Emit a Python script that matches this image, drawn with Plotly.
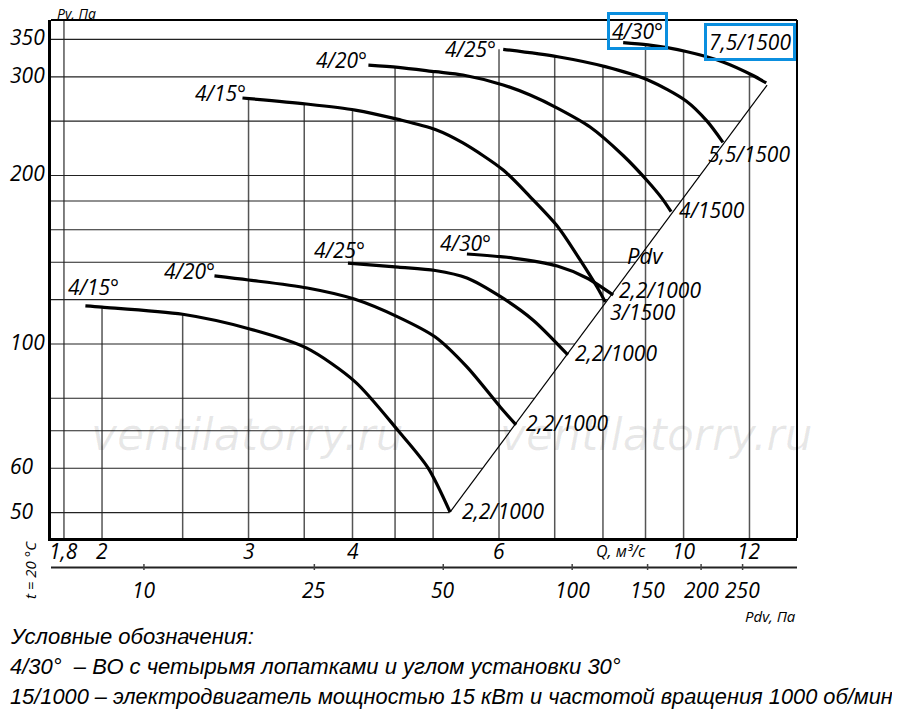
import numpy as np
import plotly.graph_objects as go

# ---- values: Q in m3/s, Pv in Pa ----

# 1000 rpm group (2,2 kW)
q_1000_15 = [1.91, 2.0, 2.5, 3.01, 3.52, 4.03, 4.54, 4.93, 5.24]
pv_1000_15 = [117.0, 116.4, 113.0, 106.4, 98.4, 85.6, 70.0, 60.1, 50.1]
q_1000_20 = [2.73, 3.0, 3.53, 4.02, 4.54, 5.03, 5.49, 6.02, 6.29]
pv_1000_20 = [132.3, 130.1, 125.9, 120.3, 111.7, 102.9, 91.0, 77.2, 71.7]
q_1000_25 = [3.95, 4.54, 5.03, 5.49, 6.02, 6.59, 7.26]
pv_1000_25 = [139.5, 137.2, 135.3, 131.2, 121.6, 110.4, 95.6]
q_1000_30 = [5.49, 6.24, 7.05, 7.65, 8.23]
pv_1000_30 = [144.8, 142.4, 137.8, 131.2, 122.3]

# 1500 rpm group
q_1500_15 = [2.95, 3.52, 4.03, 4.54, 5.03, 5.43, 6.07, 6.54, 7.06, 7.51, 7.87, 8.05]
pv_1500_15 = [275.0, 268.3, 261.7, 251.8, 241.6, 228.6, 204.5, 183.2, 162.0, 141.3, 126.4, 118.9]
q_1500_20 = [4.18, 4.54, 5.03, 5.43, 6.07, 6.54, 7.06, 7.72, 8.46, 9.06, 9.42, 9.66]
pv_1500_20 = [314.9, 312.0, 306.4, 302.2, 290.1, 278.4, 263.6, 244.1, 217.1, 195.1, 182.0, 172.3]
q_1500_25 = [6.07, 7.06, 8.05, 9.06, 10.07, 10.67, 11.15]
pv_1500_25 = [335.9, 325.8, 312.8, 296.1, 271.6, 250.0, 229.2]
q_1500_30 = [8.46, 9.06, 10.07, 11.15, 12.12, 12.57]
pv_1500_30 = [345.2, 342.0, 332.9, 318.9, 301.6, 292.5]

blade_labels = ["4/15°", "4/20°", "4/25°", "4/30°", "4/15°", "4/20°", "4/25°", "4/30°"]
motor_labels = ["2,2/1000", "2,2/1000", "2,2/1000", "2,2/1000",
                "3/1500", "4/1500", "5,5/1500", "7,5/1500"]

# Pdv line (end points of the motor-limit diagonal)
pdv_line_q = [5.24, 12.6]
pdv_line_pv = [50.1, 290.0]

# axes
q_ticks = [1.8, 2, 3, 4, 6, 10, 12]
q_tick_text = ["1,8", "2", "3", "4", "6", "10", "12"]
pv_ticks = [50, 60, 100, 200, 300, 350]
pdv_ticks = [10, 25, 50, 100, 150, 200, 250]
q_grid = [1.8, 2, 2.5, 3, 3.5, 4, 4.5, 5, 6, 7, 8, 9, 10, 12]
pv_grid = [50, 60, 70, 80, 100, 120, 140, 160, 180, 200, 250, 300, 350]

legend_lines = [
    "Условные обозначения:",
    "4/30°  – ВО с четырьмя лопатками и углом установки 30°",
    "15/1000 – электродвигатель мощностью 15 кВт и частотой вращения 1000 об/мин",
]

# ---- layout geometry in screen px (the page body adds an 8 px margin) ----
W, H = 900, 711
PAGE = 8
PLOT_L, PLOT_R, PLOT_T, AX_Y, PDV_Y = 51, 797, 20, 538, 568
L, T = PLOT_L - PAGE, PLOT_T - PAGE
R, B = W - (PLOT_R - PAGE), H - (PDV_Y - PAGE)
X_RANGE = [0.2397, 1.1363]
Y_RANGE = [1.6536, 2.5786]
PDV_RANGE = [0.783, 2.525]      # log10 Pdv across the same width

LABEL_FONT = "Open Sans, Noto Sans, sans-serif"
TEXT_FONT = "Liberation Sans, Arial, sans-serif"


def paper_x(px):
    return (px - PLOT_L) / (PLOT_R - PLOT_L)


def paper_y(py):
    return (PDV_Y - py) / (PDV_Y - PLOT_T)


def pdv_to_paper(v):
    return (np.log10(v) - PDV_RANGE[0]) / (PDV_RANGE[1] - PDV_RANGE[0])


def pv_at(q, qs, ps):
    return 10 ** np.interp(np.log10(q), np.log10(qs), np.log10(ps))


curves = [
    (q_1000_15, pv_1000_15), (q_1000_20, pv_1000_20),
    (q_1000_25, pv_1000_25), (q_1000_30, pv_1000_30),
    (q_1500_15, pv_1500_15), (q_1500_20, pv_1500_20),
    (q_1500_25, pv_1500_25), (q_1500_30, pv_1500_30),
]

fig = go.Figure()

# grid: verticals stop at the top curve, horizontals stop at the Pdv line
y_bottom, y_top = 10 ** Y_RANGE[0], 10 ** Y_RANGE[1]
vx, vy = [], []
for q in q_grid:
    tops = [pv_at(q, cq, cp) for cq, cp in curves if cq[0] <= q * 1.02 and q <= cq[-1]]
    vx += [q, q, None]
    vy += [y_bottom, max(tops) if tops else y_top, None]

k_pdv = pdv_line_pv[0] / pdv_line_q[0] ** 2
hx, hy = [], []
for p in pv_grid:
    q_diag = np.sqrt(p / k_pdv)
    q_cap = 10 ** np.interp(np.log10(p), np.log10(pv_1500_30[::-1]), np.log10(q_1500_30[::-1]))
    hx += [10 ** X_RANGE[0], min(q_diag, q_cap), None]
    hy += [p, p, None]

fig.add_trace(go.Scatter(x=vx, y=vy, mode="lines", line=dict(color="#555", width=1.5),
                         hoverinfo="skip", showlegend=False))
fig.add_trace(go.Scatter(x=hx, y=hy, mode="lines", line=dict(color="#222", width=1.1),
                         hoverinfo="skip", showlegend=False))

fig.add_trace(go.Scatter(x=pdv_line_q, y=pdv_line_pv, mode="lines",
                         line=dict(color="black", width=1.2), showlegend=False))

for cq, cp in curves:
    fig.add_trace(go.Scatter(x=cq, y=cp, mode="lines",
                             line=dict(color="black", width=3.2, shape="spline", smoothing=0.8),
                             showlegend=False))

lab_font = dict(family=LABEL_FONT, size=21, color="black", style="italic")
blue = "#0b8fdf"

# label offsets in px (dx right, dy down) from curve start / end
start_off = [(8, -19), (-25, -5), (-8, -13), (-1, -11), (-22, -5), (-27, -5), (-33, 0), (14, -12)]
end_off = [(53, -1), (51, -2), (48, -2), (47, -5), (38, 10), (41, -2), (26, 12), (-16, -41)]

annotations = []
for i, (cq, cp) in enumerate(curves):
    boxed = i == 7
    for text, q, p, (dx, dy) in [
        (blade_labels[i], cq[0], cp[0], start_off[i]),
        (motor_labels[i], cq[-1], cp[-1], end_off[i]),
    ]:
        ann = dict(x=np.log10(q), y=np.log10(p), xref="x", yref="y", text=text,
                   xshift=dx, yshift=-dy, font=lab_font)
        if boxed:
            ann.update(bordercolor=blue, borderwidth=3, borderpad=2)
        annotations.append(ann)

annotations.append(dict(x=np.log10(9.0), y=np.log10(144), xref="x", yref="y", text="Pdv",
                        font=dict(lab_font, size=22)))

# y tick labels, left aligned like the original
for v in pv_ticks:
    annotations.append(dict(x=paper_x(8), y=np.log10(v), yref="y", text=str(v),
                            xanchor="left", yshift=2, font=lab_font))

# Q tick labels just under the frame
for v, t in zip(q_ticks, q_tick_text):
    annotations.append(dict(x=np.log10(v), xref="x", y=paper_y(551), text=t, font=lab_font))

# frame top/right, then the Pdv scale: a line with small ticks under the Q axis
shapes = [
    dict(type="line", xref="paper", yref="paper", x0=0, x1=1, y0=1, y1=1,
         line=dict(color="black", width=2)),
    dict(type="line", xref="paper", yref="paper", x0=1, x1=1, y0=paper_y(AX_Y), y1=1,
         line=dict(color="black", width=2)),
    dict(type="line", xref="paper", yref="paper", x0=0, x1=1,
         y0=paper_y(PDV_Y - 0.5), y1=paper_y(PDV_Y - 0.5),
         line=dict(color="#222", width=2)),
]
for v in pdv_ticks:
    xp = pdv_to_paper(v)
    shapes.append(dict(type="line", xref="paper", yref="paper", x0=xp, x1=xp,
                       y0=paper_y(PDV_Y + 2), y1=paper_y(PDV_Y - 4),
                       line=dict(color="#444", width=1.5)))
    annotations.append(dict(x=xp, y=paper_y(590), text=str(v), font=lab_font))

small = dict(family=LABEL_FONT, size=15, color="black", style="italic")
annotations += [
    dict(x=paper_x(55), y=paper_y(13.5), text="Pv, Па", xanchor="left", font=dict(small, size=14)),
    dict(x=paper_x(621), y=paper_y(551), text="Q, м³/с", font=dict(small, size=16)),
    dict(x=paper_x(770), y=paper_y(616), text="Pdv, Па", font=small),
    dict(x=paper_x(30), y=paper_y(570), text="t = 20 °C", textangle=-90, font=small),
]

wm = dict(family="DejaVu Sans, sans-serif", size=44, color="rgba(0,0,0,0.09)",
          style="italic", weight=200)
for cx in (247, 656):
    annotations.append(dict(x=paper_x(cx), y=paper_y(434), text="ventilatorry.ru", font=wm))

for text, cy, size in zip(legend_lines, (636, 666, 696), (22, 22, 21.8)):
    annotations.append(dict(x=paper_x(8), y=paper_y(cy), text=text, xanchor="left",
                            font=dict(family=TEXT_FONT, size=size, color="black",
                                      style="italic")))

for a in annotations:
    a.setdefault("xref", "paper")
    a.setdefault("yref", "paper")
    a.setdefault("xanchor", "center")
    a.setdefault("yanchor", "middle")
    a["showarrow"] = False

fig.update_layout(
    width=W, height=H,
    margin=dict(l=L, r=R, t=T, b=B, autoexpand=False),
    paper_bgcolor="white", plot_bgcolor="white",
    showlegend=False,
    xaxis=dict(type="log", range=X_RANGE, showgrid=False, zeroline=False, automargin=False,
               showline=True, linecolor="black", linewidth=3, ticks="",
               showticklabels=False, anchor="y"),
    yaxis=dict(type="log", range=Y_RANGE, domain=[paper_y(AX_Y), 1], showgrid=False,
               zeroline=False, showline=True, linecolor="black", linewidth=3,
               ticks="", showticklabels=False, automargin=False),
    annotations=annotations,
    shapes=shapes,
)

fig.write_html("out.html")
